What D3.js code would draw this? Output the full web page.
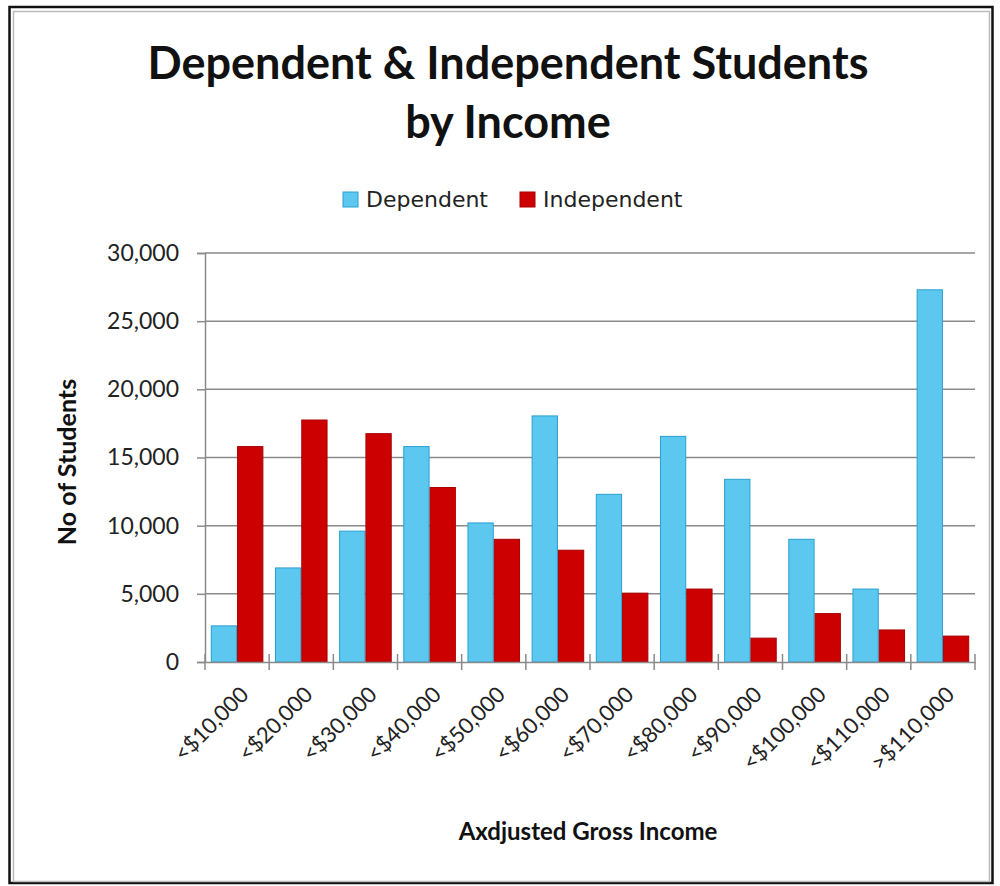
<!DOCTYPE html>
<html>
<head>
<meta charset="utf-8">
<script src="https://cdn.jsdelivr.net/npm/d3@7"></script>
<style>
  body { margin: 0; background: #fff; }
  svg { display: block; }
  .tick text { fill: #222; }
</style>
</head>
<body>
<svg id="chart" width="1000" height="886"></svg>
<script>
// data
const incomeBands = ["<$10,000", "<$20,000", "<$30,000", "<$40,000", "<$50,000", "<$60,000",
                     "<$70,000", "<$80,000", "<$90,000", "<$100,000", "<$110,000", ">$110,000"];
const dependent   = [2650, 6900, 9600, 15800, 10200, 18050, 12300, 16550, 13400, 9000, 5350, 27300];
const independent = [15800, 17750, 16750, 12800, 9000, 8200, 5050, 5350, 1750, 3550, 2350, 1900];
const seriesNames = ["Dependent", "Independent"];
const yTicks = [0, 5000, 10000, 15000, 20000, 25000, 30000];

const colors = { Dependent: "#5cc8f0", Independent: "#cc0000" };
const strokes = { Dependent: "#2a9fd0", Independent: "#a80000" };

const width = 1000, height = 886;
const margin = { top: 253, right: 25, bottom: 224, left: 205 };
const innerW = width - margin.left - margin.right;
const innerH = height - margin.top - margin.bottom;

const svg = d3.select("#chart");

// frame round the chart
svg.append("rect")
  .attr("x", 9.5).attr("y", 7).attr("width", 983).attr("height", 876)
  .attr("fill", "none").attr("stroke", "#111").attr("stroke-width", 2.5);
svg.append("rect")
  .attr("x", 13.5).attr("y", 11.5).attr("width", 976).attr("height", 870)
  .attr("fill", "none").attr("stroke", "#bbb").attr("stroke-width", 1.5);

const table = incomeBands.map((c, i) => ({ band: c, Dependent: dependent[i], Independent: independent[i] }));

const x = d3.scaleBand()
  .domain(incomeBands)
  .range([0, innerW])
  .padding(0);

const xSeries = d3.scaleBand()
  .domain(seriesNames)
  .range([0, x.bandwidth()])
  .paddingInner(0)
  .paddingOuter(0.22);

const y = d3.scaleLinear()
  .domain([0, 30000])
  .range([innerH, 0]);

const g = svg.append("g").attr("transform", `translate(${margin.left},${margin.top})`);

// gridlines
g.append("g")
  .selectAll("line")
  .data(yTicks.filter(d => d > 0))
  .join("line")
  .attr("x1", 0).attr("x2", innerW)
  .attr("y1", d => y(d)).attr("y2", d => y(d))
  .attr("stroke", "#8a8a8a").attr("stroke-width", 1.5);

// bars
g.append("g")
  .selectAll("g")
  .data(table)
  .join("g")
  .attr("transform", d => `translate(${x(d.band)},0)`)
  .selectAll("rect")
  .data(d => seriesNames.map(s => ({ key: s, value: d[s] })))
  .join("rect")
  .attr("x", d => xSeries(d.key) + 0.5)
  .attr("y", d => y(d.value))
  .attr("width", xSeries.bandwidth() - 1)
  .attr("height", d => innerH - y(d.value))
  .attr("fill", d => colors[d.key])
  .attr("stroke", d => strokes[d.key])
  .attr("stroke-width", 1);

// y axis
const yAxis = g.append("g")
  .call(d3.axisLeft(y).tickValues(yTicks).tickSize(8).tickPadding(18)
    .tickFormat(d3.format(",")));
yAxis.selectAll("line").attr("stroke", "#8a8a8a").attr("stroke-width", 1.5);
yAxis.select(".domain").attr("stroke", "#8a8a8a").attr("stroke-width", 1.5);
yAxis.selectAll("text")
  .attr("font-family", "Lato, 'Open Sans', sans-serif")
  .attr("font-size", 23);

// x axis: line, crossing ticks at band edges, slanted labels
const xAxis = g.append("g")
  .attr("transform", `translate(0,${innerH})`)
  .call(d3.axisBottom(x).tickSize(0).tickSizeOuter(0).tickPadding(0));
xAxis.select(".domain").attr("stroke", "#8a8a8a").attr("stroke-width", 1.5);
xAxis.selectAll(".tick text")
  .attr("font-family", "Lato, 'Open Sans', sans-serif")
  .attr("font-size", 22)
  .attr("text-anchor", "end")
  .attr("dy", 0)
  .attr("transform", `translate(${x.bandwidth() * 0.2},34) rotate(-45)`);

const edges = incomeBands.map(c => x(c)).concat([x(incomeBands[incomeBands.length - 1]) + x.bandwidth()]);
xAxis.append("g")
  .selectAll("line")
  .data(edges)
  .join("line")
  .attr("x1", d => d).attr("x2", d => d)
  .attr("y1", -8).attr("y2", 8)
  .attr("stroke", "#8a8a8a").attr("stroke-width", 1.5);

// titles
svg.append("text")
  .attr("x", 508).attr("y", 79)
  .attr("text-anchor", "middle")
  .attr("font-family", "Lato, sans-serif").attr("font-weight", "bold")
  .attr("font-size", 45).attr("fill", "#111")
  .text("Dependent & Independent Students");
svg.append("text")
  .attr("x", 508).attr("y", 138)
  .attr("text-anchor", "middle")
  .attr("font-family", "Lato, sans-serif").attr("font-weight", "bold")
  .attr("font-size", 45).attr("fill", "#111")
  .text("by Income");

svg.append("text")
  .attr("transform", "translate(76,462) rotate(-90)")
  .attr("text-anchor", "middle")
  .attr("font-family", "Lato, sans-serif").attr("font-weight", "bold")
  .attr("font-size", 25).attr("fill", "#111")
  .text("No of Students");

svg.append("text")
  .attr("x", 588).attr("y", 840)
  .attr("text-anchor", "middle")
  .attr("font-family", "Lato, sans-serif").attr("font-weight", "bold")
  .attr("font-size", 24).attr("fill", "#111")
  .text("Axdjusted Gross Income");

// legend
const legendX = [343, 520];
const legend = svg.append("g");
const item = legend.selectAll("g")
  .data(seriesNames)
  .join("g")
  .attr("transform", (d, i) => `translate(${legendX[i]},192)`);
item.append("rect")
  .attr("width", 15).attr("height", 15)
  .attr("fill", d => colors[d]).attr("stroke", d => strokes[d]);
item.append("text")
  .attr("x", 23).attr("y", 15)
  .attr("font-family", "'DejaVu Sans', sans-serif")
  .attr("font-size", 22).attr("fill", "#222")
  .text(d => d);
</script>
</body>
</html>
